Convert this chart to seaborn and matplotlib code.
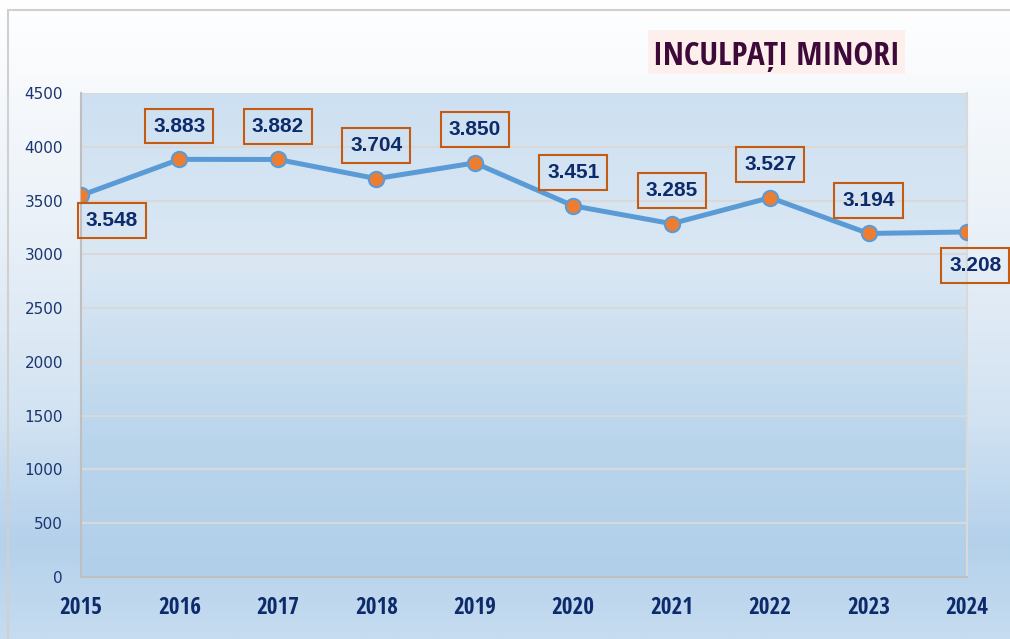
import os
import matplotlib
matplotlib.use("Agg")
import matplotlib.pyplot as plt
import seaborn as sns
import numpy as np
import pandas as pd
from matplotlib.colors import LinearSegmentedColormap
from matplotlib.patches import Rectangle
from matplotlib import font_manager as fm
from matplotlib.textpath import TextPath
from matplotlib.font_manager import FontProperties

# ---- data ----
years = [2015, 2016, 2017, 2018, 2019, 2020, 2021, 2022, 2023, 2024]
values = [3548, 3883, 3882, 3704, 3850, 3451, 3285, 3527, 3194, 3208]
value_labels = ["3.548", "3.883", "3.882", "3.704", "3.850",
                "3.451", "3.285", "3.527", "3.194", "3.208"]
label_side = ["below_right", "above", "above", "above", "above",
              "above", "above", "above", "above", "below"]
yticks = [0, 500, 1000, 1500, 2000, 2500, 3000, 3500, 4000, 4500]
title = "INCULPAȚI MINORI"

df = pd.DataFrame({"year": years, "value": values})

sns.set_theme(style="white")
plt.rcParams["font.family"] = ["Liberation Sans", "DejaVu Sans"]

# ---- choose a narrow bold sans font (reference uses an Arial-Narrow-like face) ----
BASES = ["DejaVu Sans", "Liberation Sans", "Noto Sans", "Roboto", "Open Sans",
         "Lato", "Inter", "Arial"]


def _allowed(name):
    if name in BASES:
        return True
    for b in BASES:
        if name.startswith(b + " "):
            rest = name[len(b) + 1:]
            if ("Condensed" in rest or "Narrow" in rest) and "Mono" not in rest:
                return True
    return False


def _is_plain_bold(fname):
    low = os.path.basename(fname).lower()
    if "bold" not in low:
        return False
    for bad in ["semibold", "extrabold", "ultrabold", "demibold", "black",
                "light", "thin", "italic", "oblique", "medium", "mono"]:
        if bad in low:
            return False
    return True


def _extent(s, fp):
    try:
        bb = TextPath((0, 0), s, size=100, prop=fp).get_extents()
        return bb.width, bb.height
    except Exception:
        return None


def pick_narrow(sample, target_ratio):
    best, best_score = None, None
    seen = set()
    for f in fm.fontManager.ttflist:
        if f.fname in seen:
            continue
        seen.add(f.fname)
        if not _allowed(f.name) or not _is_plain_bold(f.fname):
            continue
        ext = _extent(sample, FontProperties(fname=f.fname))
        if ext is None or ext[1] <= 0:
            continue
        score = abs(ext[0] / ext[1] - target_ratio)
        if best_score is None or score < best_score:
            best, best_score = f, score
    return best


def props_for(entry):
    if entry is None:
        return FontProperties(family=["Liberation Sans", "DejaVu Sans"],
                              weight="bold")
    return FontProperties(family=[entry.name, "DejaVu Sans"], weight=entry.weight,
                          stretch=entry.stretch, style="normal")


def size_for_height(s, fp, px_height):
    ext = _extent(s, fp)
    if ext is None or ext[1] <= 0:
        return 17
    return px_height / ext[1] * 100.0 * 72.0 / 100.0


tick_entry = pick_narrow("2015", 42.0 / 17.0)
title_entry = pick_narrow("INCULPATI MINORI", 240.0 / 24.5)
narrow_tick = props_for(tick_entry)
narrow_title = props_for(title_entry)
tick_size = size_for_height("2015", FontProperties(fname=tick_entry.fname)
                            if tick_entry else narrow_tick, 17.0)
title_size = size_for_height("INCULPATI MINORI",
                             FontProperties(fname=title_entry.fname)
                             if title_entry else narrow_title, 24.5)

W, H = 1010, 639
fig = plt.figure(figsize=(W / 100, H / 100), dpi=100)

# ---- figure background gradient ----
bg = fig.add_axes([0, 0, 1, 1], zorder=-5)
bg_cmap = LinearSegmentedColormap.from_list(
    "bg", [(0.0, "#ffffff"), (0.35, "#eaf1f8"), (0.65, "#d3e3f2"),
           (0.85, "#b4d1eb"), (1.0, "#c6dcf0")])
grad = np.linspace(0, 1, 256).reshape(-1, 1)
bg.imshow(grad, aspect="auto", cmap=bg_cmap, extent=[0, 1, 0, 1], origin="upper")
bg.add_patch(Rectangle((8 / W, -0.1), 1.2, (1 - 10 / H) + 0.1, fill=False,
                       edgecolor="#d0d0d0", linewidth=1.5,
                       transform=bg.transAxes))
# title background box
bg.add_patch(Rectangle((648 / W, 1 - 74 / H), (905 - 648) / W, 44 / H,
                       facecolor="#fdf0ec", edgecolor="none",
                       transform=bg.transAxes))
bg.set_xlim(0, 1)
bg.set_ylim(0, 1)
bg.axis("off")

# ---- main axes ----
x0, x1, yt, yb = 81, 967, 93, 577
ax = fig.add_axes([x0 / W, 1 - yb / H, (x1 - x0) / W, (yb - yt) / H])
ax.patch.set_alpha(0)

pa_cmap = LinearSegmentedColormap.from_list(
    "pa", [(0.0, "#cde0f1"), (0.35, "#dbe8f4"), (0.72, "#b9d5ec"),
           (1.0, "#b2cfea")])
ax.imshow(grad, aspect="auto", cmap=pa_cmap,
          extent=[years[0], years[-1], 0, 4500], origin="upper", zorder=0)

sns.lineplot(data=df, x="year", y="value", ax=ax, color="#5b9bd5",
             linewidth=3.6, marker="o", markersize=11,
             markerfacecolor="#ed7d31", markeredgecolor="#5b9bd5",
             markeredgewidth=1.5, zorder=4)

ax.set_xlim(years[0], years[-1])
ax.set_ylim(0, 4500)
ax.set_yticks(yticks)
ax.set_xticks(years)
ax.set_xticklabels([str(y) for y in years])
ax.set_xlabel("")
ax.set_ylabel("")

for y in yticks[1:]:
    ax.axhline(y, color="#d9d9d9", linewidth=1.5, zorder=1)

ax.spines["top"].set_visible(False)
ax.spines["left"].set_color("#bfbfbf")
ax.spines["bottom"].set_color("#bfbfbf")
ax.spines["right"].set_color("#d9d9d9")
for s in ["left", "bottom", "right"]:
    ax.spines[s].set_linewidth(1.5)
    ax.spines[s].set_zorder(2)

ax.tick_params(axis="x", length=0, pad=14)
ax.tick_params(axis="y", length=0, pad=13)
for lab in ax.get_xticklabels():
    lab.set_fontproperties(narrow_tick)
    lab.set_fontsize(tick_size)
    lab.set_color("#0d2a6b")
for lab in ax.get_yticklabels():
    lab.set_fontfamily(["DejaVu Sans"])
    lab.set_fontsize(11)
    lab.set_color("#1a3570")

offsets = {"above": (0, 24), "below_right": (22, -18), "below": (6, -24)}
for xv, yv, txt, side in zip(years, values, value_labels, label_side):
    ax.annotate(txt, (xv, yv), xytext=offsets[side], textcoords="offset points",
                ha="center", va="center", fontsize=15, fontweight="bold",
                color="#0d2a6b", zorder=6, annotation_clip=False,
                bbox=dict(boxstyle="square,pad=0.38", facecolor="none",
                          edgecolor="#c55a11", linewidth=1.5))

fig.text(776 / W, 1 - 53 / H, title, ha="center", va="center_baseline",
         fontproperties=narrow_title, fontsize=title_size, color="#3d0a3a")

fig.savefig("out.png", dpi=100)
